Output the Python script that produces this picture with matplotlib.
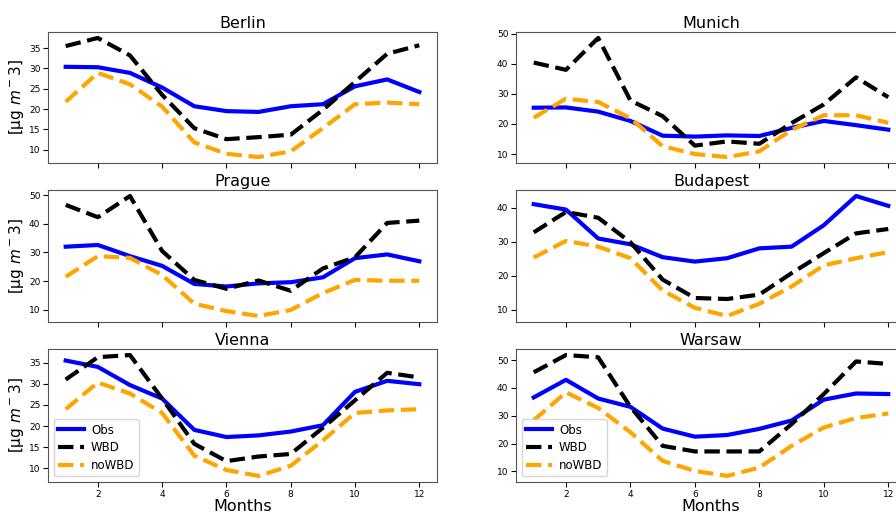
import matplotlib.pyplot as plt
import numpy as np

months = np.arange(1, 13)

cities = ['Berlin', 'Munich', 'Prague', 'Budapest', 'Vienna', 'Warsaw']

obs = {
    'Berlin':   [30.4, 30.3, 28.9, 25.3, 20.7, 19.5, 19.3, 20.7, 21.2, 25.6, 27.3, 24.2],
    'Munich':   [25.4, 25.5, 24.1, 21.0, 16.1, 15.8, 16.2, 16.0, 18.7, 21.0, 19.6, 18.1],
    'Prague':   [32.0, 32.6, 28.7, 25.3, 19.0, 18.1, 19.2, 19.6, 21.3, 28.0, 29.3, 26.9],
    'Budapest': [41.0, 39.4, 30.9, 29.2, 25.4, 24.1, 25.1, 28.0, 28.5, 34.8, 43.4, 40.5],
    'Vienna':   [35.5, 34.0, 29.7, 26.5, 19.1, 17.4, 17.8, 18.7, 20.2, 28.1, 30.7, 29.9],
    'Warsaw':   [36.6, 42.9, 36.2, 33.2, 25.4, 22.5, 23.1, 25.3, 28.3, 35.8, 38.0, 37.8],
}

wbd = {
    'Berlin':   [35.5, 37.5, 33.2, 23.5, 15.3, 12.6, 13.1, 13.7, 19.8, 26.7, 33.6, 35.7],
    'Munich':   [40.4, 38.0, 48.6, 27.8, 22.6, 12.8, 14.2, 13.4, 20.3, 26.5, 35.5, 28.9],
    'Prague':   [46.6, 42.3, 49.7, 30.5, 20.4, 17.3, 20.2, 16.6, 24.4, 28.3, 40.3, 41.1],
    'Budapest': [32.7, 38.7, 37.0, 29.8, 18.8, 13.4, 13.1, 14.4, 20.7, 26.6, 32.4, 33.7],
    'Vienna':   [31.0, 36.3, 36.8, 26.5, 15.8, 11.7, 12.8, 13.4, 19.6, 26.1, 32.6, 31.5],
    'Warsaw':   [45.6, 51.8, 51.0, 33.2, 19.2, 17.2, 17.2, 17.2, 27.0, 37.8, 49.5, 48.6],
}

nowbd = {
    'Berlin':   [21.8, 28.9, 26.1, 20.6, 11.8, 9.0, 8.2, 9.6, 15.3, 21.2, 21.6, 21.2],
    'Munich':   [22.1, 28.4, 27.3, 21.9, 12.6, 10.0, 9.0, 10.9, 18.0, 22.9, 22.9, 20.4],
    'Prague':   [21.5, 28.7, 28.1, 22.1, 12.1, 9.5, 7.8, 9.9, 15.8, 20.4, 20.1, 20.1],
    'Budapest': [25.3, 30.2, 28.5, 25.1, 15.6, 10.5, 8.1, 11.7, 16.8, 23.0, 25.1, 26.9],
    'Vienna':   [24.0, 30.3, 27.7, 23.1, 13.0, 9.6, 8.2, 10.6, 16.6, 23.1, 23.7, 24.0],
    'Warsaw':   [28.4, 38.4, 32.8, 24.1, 13.8, 10.2, 8.4, 11.4, 19.2, 25.8, 29.2, 30.8],
}

# y tick spacing per panel
ystep = {'Berlin': 5, 'Munich': 10, 'Prague': 10,
         'Budapest': 10, 'Vienna': 5, 'Warsaw': 10}

W, H = 896, 515
fig = plt.figure(figsize=(W / 100, H / 100), dpi=100)

# panel boxes in pixels: (left, right) and (top, bottom)
col_x = [(48, 437), (516, 906)]
row_y = [(32, 163), (190, 322), (349, 482)]

for i, city in enumerate(cities):
    r, c = divmod(i, 2)
    x0, x1 = col_x[c]
    y0, y1 = row_y[r]
    ax = fig.add_axes([x0 / W, 1 - y1 / H, (x1 - x0) / W, (y1 - y0) / H])

    ax.plot(months, obs[city], color='blue', lw=3, label='Obs')
    ax.plot(months, wbd[city], color='black', lw=3, ls='--', label='WBD')
    ax.plot(months, nowbd[city], color='orange', lw=3, ls='--', label='noWBD')

    ax.set_title(city, fontsize=11.5, pad=3)
    ax.set_xticks([2, 4, 6, 8, 10, 12])
    ax.yaxis.set_major_locator(plt.MultipleLocator(ystep[city]))
    ax.tick_params(labelsize=6.5, pad=2)
    for s in ax.spines.values():
        s.set_color('#555555')

    if r < 2:
        ax.tick_params(labelbottom=False)
    else:
        ax.set_xlabel('Months', fontsize=11.5, labelpad=0)
        ax.legend(loc='lower left', fontsize=8.5, handlelength=2.2,
                  handletextpad=0.6, borderpad=0.35, labelspacing=0.4)
    if c == 0:
        ax.set_ylabel(r'[μg $m^-3$]', fontsize=11, labelpad=2)

fig.savefig('out.png', dpi=100)
